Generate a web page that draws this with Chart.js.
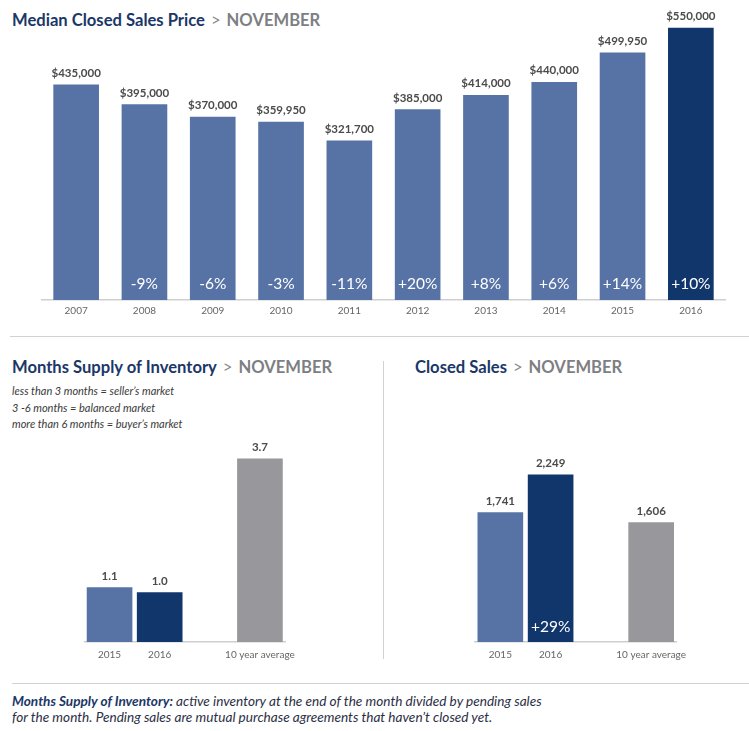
<!DOCTYPE html>
<html>
<head>
<meta charset="utf-8">
<script src="https://cdn.jsdelivr.net/npm/chart.js@4.4.1/dist/chart.umd.min.js"></script>
<style>
  html, body { margin: 0; padding: 0; background: #fff; }
  body { width: 749px; height: 731px; position: relative; overflow: hidden; font-family: Lato, "Open Sans", sans-serif; }
  .abs { position: absolute; white-space: nowrap; }
  .title { font-weight: 700; font-size: 16.6px; line-height: 16.6px; color: #1b3767; }
  .title .gt { font-weight: 400; color: #8a8a8a; margin: 0 6px; }
  .title .mo { color: #7d7f83; }
  .note { font-style: italic; font-size: 11px; line-height: 16.5px; color: #3a3a3a; }
  .foot { font-style: italic; font-size: 13.6px; line-height: 16.5px; color: #2b2f45; }
  .foot b { color: #1b3767; }
  .hline { position: absolute; height: 0; border-top: 1.5px solid #d2d2d2; }
  .vline { position: absolute; width: 0; border-left: 1.5px solid #d2d2d2; }
  canvas { position: absolute; }
</style>
</head>
<body>

<div class="abs title" style="left:12px; top:11.5px;">Median Closed Sales Price<span class="gt">&gt;</span><span class="mo">NOVEMBER</span></div>
<div class="hline" style="left:10px; top:336px; width:739px;"></div>

<div class="abs title" style="left:12px; top:358.6px;">Months Supply of Inventory<span class="gt">&gt;</span><span class="mo">NOVEMBER</span></div>
<div class="abs note" style="left:12px; top:383px;">less than 3 months = seller’s market<br>3 -6 months = balanced market<br>more than 6 months = buyer’s market</div>

<div class="vline" style="left:383px; top:361px; height:298px;"></div>
<div class="abs title" style="left:415px; top:358.6px;">Closed Sales<span class="gt">&gt;</span><span class="mo">NOVEMBER</span></div>

<div class="hline" style="left:12px; top:683px; width:737px;"></div>
<div class="abs foot" style="left:12px; top:692.5px;"><b>Months Supply of Inventory:</b> active inventory at the end of the month divided by pending sales<br>for the month. Pending sales are mutual purchase agreements that haven’t closed yet.</div>

<canvas id="priceChart" style="left:0; top:0;" width="749" height="322"></canvas>
<canvas id="supplyChart" style="left:0; top:440px;" width="383" height="227"></canvas>
<canvas id="salesChart" style="left:384px; top:440px;" width="365" height="227"></canvas>

<script>
// ---------- DATA ----------
const priceYears   = ['2007','2008','2009','2010','2011','2012','2013','2014','2015','2016'];
const medianPrice  = [435000, 395000, 370000, 359950, 321700, 385000, 414000, 440000, 499950, 550000];
const priceChange  = ['', '-9%', '-6%', '-3%', '-11%', '+20%', '+8%', '+6%', '+14%', '+10%'];

const supplyLabels = ['2015', '2016', '', '10 year average'];
const monthsSupply = [1.1, 1.0, null, 3.7];

const salesLabels  = ['2015', '2016', '', '10 year average'];
const closedSales  = [1741, 2249, null, 1606];
const salesChange  = ['', '+29%', '', ''];

// ---------- STYLE ----------
const BLUE = '#5773a5', NAVY = '#11366b', GREY = '#98989c';
const FONT = 'Lato, "Open Sans", sans-serif';

const barLabels = {
  id: 'barLabels',
  afterDatasetsDraw(chart, args, opts) {
    const ctx = chart.ctx;
    const meta = chart.getDatasetMeta(0);
    const data = chart.data.datasets[0].data;
    meta.data.forEach((bar, i) => {
      const v = data[i];
      if (v === null || v === undefined) return;
      ctx.save();
      ctx.textAlign = 'center';
      ctx.textBaseline = 'alphabetic';
      ctx.font = 'bold 11.5px ' + FONT;
      ctx.fillStyle = '#4b4b4b';
      ctx.fillText(opts.format(v), bar.x, bar.y - 8);
      const c = opts.changes ? opts.changes[i] : '';
      if (c) {
        ctx.font = '15.5px ' + FONT;
        ctx.fillStyle = '#ffffff';
        ctx.textBaseline = 'middle';
        ctx.fillText(c, bar.x, bar.base - opts.changeOffset);
      }
      ctx.restore();
    });
  }
};

function makeChart(id, labels, values, colors, yMax, padding, tickPad, format, changes, changeOffset) {
  return new Chart(document.getElementById(id), {
    type: 'bar',
    data: {
      labels: labels,
      datasets: [{
        data: values,
        backgroundColor: colors,
        borderWidth: 0,
        barThickness: 45
      }]
    },
    options: {
      responsive: false,
      animation: false,
      layout: { padding: padding },
      plugins: {
        legend: { display: false },
        tooltip: { enabled: false },
        barLabels: { format: format, changes: changes, changeOffset: changeOffset }
      },
      scales: {
        x: {
          grid: { display: false, drawTicks: false },
          border: { display: true, color: '#cfcfcf', width: 1.5 },
          ticks: { color: '#666666', font: { family: FONT, size: 10 }, padding: tickPad, autoSkip: false, maxRotation: 0 }
        },
        y: { display: false, min: 0, max: yMax }
      }
    },
    plugins: [barLabels]
  });
}

makeChart('priceChart', priceYears, medianPrice,
  medianPrice.map((v, i) => i === medianPrice.length - 1 ? NAVY : BLUE),
  600000, { left: 42, right: 24, top: 3.3, bottom: 0 }, 5,
  v => '$' + v.toLocaleString('en-US'), priceChange, 16.5);

makeChart('supplyChart', supplyLabels, monthsSupply, [BLUE, NAVY, GREY, GREY],
  4, { left: 84.5, right: 98, top: 4, bottom: 0 }, 6.5,
  v => v.toFixed(1), null, 0);

makeChart('salesChart', salesLabels, closedSales, [BLUE, NAVY, GREY, GREY],
  2700, { left: 91.2, right: 72.7, top: 1.4, bottom: 0 }, 6.5,
  v => v.toLocaleString('en-US'), salesChange, 15.5);
</script>
</body>
</html>
